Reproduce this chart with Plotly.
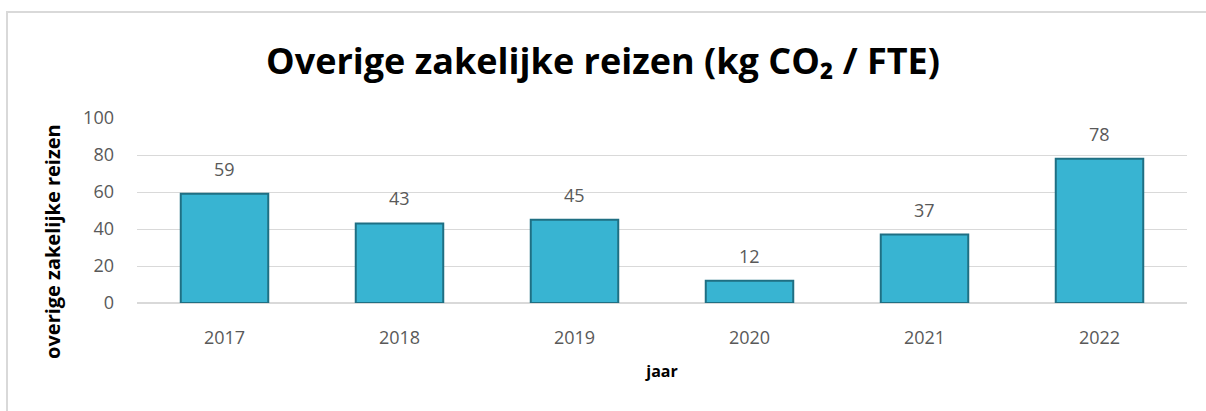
import plotly.graph_objects as go

jaren = ["2017", "2018", "2019", "2020", "2021", "2022"]
waarden = [59, 43, 45, 12, 37, 78]
y_ticks = [0, 20, 40, 60, 80, 100]

FONT = "Open Sans"

fig = go.Figure()
fig.add_trace(go.Bar(
    x=jaren, y=waarden,
    width=0.5,
    marker=dict(color="#38B4D2", line=dict(color="#1F6F83", width=2)),
    hoverinfo="x+y",
))

# data labels floating above the bars (x = category index)
for i, v in enumerate(waarden):
    fig.add_annotation(x=i, y=v, text=str(v), showarrow=False,
                       yanchor="middle", yshift=25,
                       font=dict(family=FONT, size=18, color="#595959"))

# y-axis title, placed a bit lower like the original
fig.add_annotation(xref="paper", yref="paper", x=-0.08, y=0.33,
                   text="<b>overige zakelijke reizen</b>", textangle=-90,
                   showarrow=False, xanchor="center", yanchor="middle",
                   font=dict(family=FONT, size=20, color="black"))

fig.update_layout(
    width=1206, height=411,
    margin=dict(l=137, r=19, t=118, b=108),
    paper_bgcolor="white", plot_bgcolor="white",
    showlegend=False,
    title=dict(text="<b>Overige zakelijke reizen (kg CO₂ / FTE)</b>",
               x=0.5, xanchor="center", y=0.85, yanchor="middle",
               font=dict(family=FONT, size=36, color="black")),
    font=dict(family=FONT),
)
fig.update_yaxes(
    range=[0, 100], tickvals=y_ticks,
    showgrid=True, gridcolor="#D9D9D9", gridwidth=1,
    zeroline=True, zerolinecolor="#D9D9D9",
    ticks="", ticklabelstandoff=22,
    tickfont=dict(family=FONT, size=18, color="#595959"),
)
fig.update_xaxes(
    type="category", range=[-0.5, len(jaren) - 0.5],
    showgrid=False, ticks="", ticklabelstandoff=22,
    tickfont=dict(family=FONT, size=18, color="#595959"),
    title=dict(text="<b>jaar</b>", standoff=17,
               font=dict(family=FONT, size=16, color="black")),
)

# chart frame (only left and top edges visible)
fig.add_shape(type="rect", xref="paper", yref="paper",
              x0=-0.1238, x1=1.2, y0=-1.0, y1=1.573,
              line=dict(color="#D9D9D9", width=2), layer="below")

fig.write_html("out.html", config={"displayModeBar": False},
               post_script="document.body.style.margin='0px';")
